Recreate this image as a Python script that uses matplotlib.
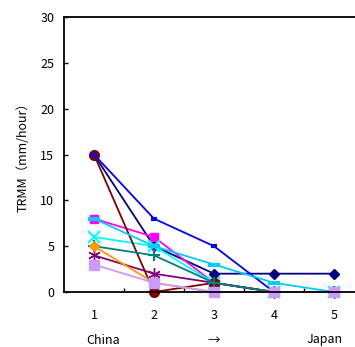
import matplotlib
matplotlib.use("Agg")
import matplotlib.pyplot as plt
from matplotlib.ticker import FixedLocator

plt.rcParams['font.family'] = ['Noto Sans CJK JP', 'DejaVu Sans']

categories = ["1", "2", "3", "4", "5"]
navy_diamond = [15, 5, 2, 2, 2]
magenta_square = [8, 6, 1, 0, 0]
cyan_x = [6, 5, 1, 0, 0]
purple_star = [4, 2, 1, 0, 0]
darkred_circle = [15, 0, 1, 0, 0]
teal_plus = [5, 4, 1, 0, 0]
blue_dash = [15, 8, 5, 0, 0]
sky_dash = [8, 5, 3, 1, 0]
orange_diamond = [5, 1, 0, 0, 0]
lavender_square = [3, 1, 0, 0, 0]
bottom_labels = ["China", "\u2192", "Japan"]

series = [
    (navy_diamond, "#000080", "D", 5.5, 1),
    (magenta_square, "#FF00FF", "s", 6, 1),
    (cyan_x, "#00FFFF", "x", 8, 1.5),
    (purple_star, "#800080", (6, 2, 0), 9, 1),
    (darkred_circle, "#800000", "o", 7, 1),
    (teal_plus, "#008080", "+", 8, 1.5),
    (blue_dash, "#0000FF", "_", 5, 3),
    (sky_dash, "#00CCFF", "_", 8, 3),
    (orange_diamond, "#FF9900", "D", 5.5, 1),
    (lavender_square, "#CC99FF", "s", 7, 1),
]

fig = plt.figure(figsize=(3.55, 3.47), dpi=100)
ax = fig.add_axes([64/355, 55/347, 300/355, 275/347])
x = list(range(len(categories)))
for vals, col, mk, ms, mew in series:
    ax.plot(x, vals, color=col, lw=1.3, marker=mk, markersize=ms,
            markerfacecolor=col, markeredgecolor=col, markeredgewidth=mew,
            clip_on=False)

ax.set_xlim(-0.5, len(categories) - 0.5)
ax.set_ylim(0, 30)
ax.set_yticks(range(0, 31, 5))
ax.set_xticks(x)
ax.set_xticklabels(categories)
ax.xaxis.set_minor_locator(FixedLocator([i + 0.5 for i in range(len(categories) - 1)]))
ax.tick_params(axis='x', which='major', length=0, pad=12, labelsize=9)
ax.tick_params(axis='x', which='minor', direction='in', length=3, width=1)
ax.tick_params(axis='y', direction='in', length=3, width=1, labelsize=9, pad=7)
for s in ['left', 'bottom', 'top']:
    ax.spines[s].set_linewidth(1.3)
ax.spines['right'].set_visible(False)
ax.set_ylabel("TRMM\uff08mm/hour\uff09", fontsize=9, labelpad=8)

for lab, px in zip(bottom_labels, [103, 214, 325]):
    fig.text(px/355, 1 - 340/347, lab, ha='center', va='center', fontsize=9)

fig.savefig("out.png", dpi=100)
